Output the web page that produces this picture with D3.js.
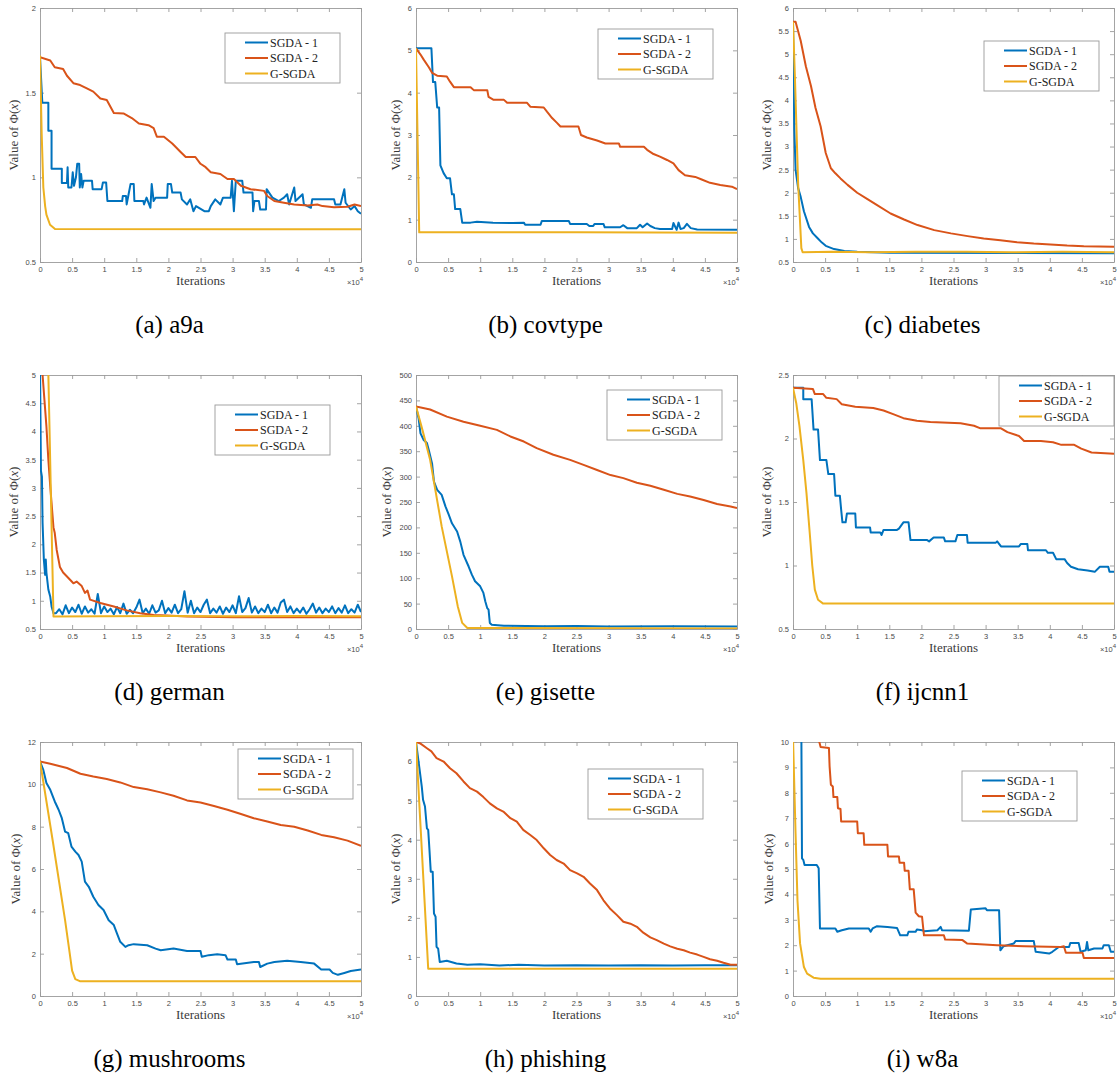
<!DOCTYPE html>
<html><head><meta charset="utf-8">
<script src="https://cdn.jsdelivr.net/npm/d3@7"></script>
<style>body{margin:0;background:#fff}svg{display:block}</style>
</head><body>
<svg id="chart" width="1120" height="1078"></svg>
<script>
// ---------- DATA (x in units of 10^4 iterations) ----------
const seriesNames = ["SGDA - 1", "SGDA - 2", "G-SGDA"];
const seriesColors = ["#0072BD", "#D95319", "#EDB120"];
const captions = ["(a) a9a", "(b) covtype", "(c) diabetes", "(d) german", "(e) gisette", "(f) ijcnn1", "(g) mushrooms", "(h) phishing", "(i) w8a"];
const xTicks = [0, 0.5, 1, 1.5, 2, 2.5, 3, 3.5, 4, 4.5, 5];

const a9a_yTicks = [0.5, 1, 1.5, 2];
const covtype_yTicks = [0, 1, 2, 3, 4, 5, 6];
const diabetes_yTicks = [0.5, 1, 1.5, 2, 2.5, 3, 3.5, 4, 4.5, 5, 5.5, 6];
const german_yTicks = [0.5, 1, 1.5, 2, 2.5, 3, 3.5, 4, 4.5, 5];
const gisette_yTicks = [0, 50, 100, 150, 200, 250, 300, 350, 400, 450, 500];
const ijcnn1_yTicks = [0.5, 1, 1.5, 2, 2.5];
const mushrooms_yTicks = [0, 2, 4, 6, 8, 10, 12];
const phishing_yTicks = [0, 1, 2, 3, 4, 5, 6];
const w8a_yTicks = [0, 1, 2, 3, 4, 5, 6, 7, 8, 9, 10];

const a9a_sgda1 = [[0,1.71],[0.036,1.44],[0.13,1.44],[0.13,1.275],[0.18,1.275],[0.18,1.05],[0.34,1.05],[0.34,0.966],[0.42,0.966],[0.43,1.06],[0.44,0.94],[0.49,0.94],[0.51,1.03],[0.53,0.95],[0.56,1.0],[0.58,1.08],[0.61,1.08],[0.62,0.94],[0.64,1.02],[0.66,0.94],[0.68,0.98],[0.81,0.98],[0.82,0.93],[0.96,0.93],[0.98,0.97],[1.03,0.97],[1.05,0.86],[1.28,0.86],[1.29,0.89],[1.34,0.89],[1.35,0.84],[1.38,0.9],[1.41,0.96],[1.46,0.96],[1.47,0.86],[1.61,0.86],[1.62,0.84],[1.66,0.88],[1.72,0.82],[1.74,0.96],[1.77,0.86],[1.80,0.88],[1.98,0.88],[1.99,0.96],[2.04,0.96],[2.06,0.91],[2.19,0.91],[2.21,0.87],[2.29,0.84],[2.34,0.87],[2.39,0.80],[2.43,0.83],[2.56,0.80],[2.63,0.80],[2.66,0.83],[2.73,0.87],[2.81,0.84],[2.85,0.88],[2.97,0.88],[2.99,0.98],[3.02,0.80],[3.05,0.98],[3.15,0.98],[3.17,0.91],[3.31,0.91],[3.32,0.80],[3.34,0.86],[3.41,0.86],[3.43,0.81],[3.52,0.81],[3.53,0.93],[3.62,0.88],[3.72,0.86],[3.80,0.88],[3.85,0.90],[3.88,0.84],[3.96,0.94],[3.98,0.86],[4.09,0.90],[4.11,0.84],[4.22,0.82],[4.24,0.87],[4.58,0.87],[4.60,0.84],[4.68,0.84],[4.74,0.93],[4.76,0.85],[4.84,0.81],[4.90,0.83],[4.95,0.80],[5,0.785]];
const a9a_sgda2 = [[0,1.71],[0.16,1.69],[0.23,1.65],[0.36,1.64],[0.42,1.60],[0.52,1.556],[0.625,1.545],[0.73,1.525],[0.83,1.506],[0.94,1.466],[1.04,1.457],[1.15,1.38],[1.30,1.377],[1.43,1.35],[1.54,1.318],[1.69,1.308],[1.77,1.29],[1.82,1.24],[1.93,1.24],[2.06,1.20],[2.19,1.15],[2.27,1.12],[2.42,1.12],[2.50,1.08],[2.58,1.06],[2.66,1.03],[2.81,1.02],[2.92,0.99],[3.02,0.99],[3.13,0.95],[3.28,0.93],[3.49,0.92],[3.54,0.89],[3.65,0.86],[3.80,0.85],[3.96,0.84],[4.17,0.834],[4.32,0.84],[4.40,0.83],[4.58,0.824],[4.79,0.826],[4.90,0.84],[5,0.83]];
const a9a_gsgda = [[0,1.72],[0.026,1.26],[0.052,0.94],[0.08,0.83],[0.10,0.78],[0.156,0.72],[0.234,0.695],[5,0.693]];

const covtype_sgda1 = [[0,5.05],[0.24,5.05],[0.265,4.25],[0.30,4.25],[0.33,3.65],[0.36,3.65],[0.38,2.28],[0.43,2.10],[0.48,1.98],[0.53,1.98],[0.56,1.60],[0.59,1.60],[0.61,1.25],[0.69,1.25],[0.72,0.93],[0.85,0.93],[0.95,0.95],[1.2,0.93],[1.5,0.92],[1.68,0.93],[1.70,0.88],[1.94,0.88],[1.96,0.97],[2.38,0.97],[2.40,0.90],[2.66,0.90],[2.70,0.85],[2.76,0.85],[2.78,0.90],[2.92,0.90],[2.94,0.82],[3.18,0.82],[3.23,0.87],[3.29,0.80],[3.44,0.80],[3.49,0.88],[3.53,0.82],[3.60,0.91],[3.65,0.85],[3.72,0.80],[3.80,0.78],[3.99,0.78],[4.01,0.92],[4.06,0.76],[4.09,0.93],[4.12,0.78],[4.17,0.80],[4.22,0.90],[4.28,0.80],[4.38,0.77],[5,0.76]];
const covtype_sgda2 = [[0,5.05],[0.07,4.9],[0.12,4.78],[0.2,4.6],[0.25,4.47],[0.33,4.4],[0.48,4.38],[0.53,4.26],[0.59,4.13],[0.85,4.13],[0.9,4.06],[1.11,4.06],[1.13,3.9],[1.21,3.83],[1.37,3.83],[1.42,3.76],[1.73,3.76],[1.78,3.67],[1.99,3.65],[2.04,3.55],[2.12,3.4],[2.2,3.28],[2.25,3.2],[2.53,3.2],[2.57,3.0],[2.66,2.94],[2.82,2.87],[2.95,2.8],[3.16,2.8],[3.18,2.72],[3.55,2.72],[3.6,2.65],[3.7,2.55],[3.8,2.49],[3.91,2.41],[4.01,2.33],[4.09,2.17],[4.19,2.05],[4.35,2.01],[4.45,1.95],[4.58,1.87],[4.74,1.82],[4.92,1.78],[5,1.72]];
const covtype_gsgda = [[0,5.05],[0.05,0.70],[2.5,0.70],[5,0.69]];

const diabetes_sgda1 = [[0,5.7],[0.02,3.4],[0.04,2.5],[0.08,2.1],[0.12,1.91],[0.17,1.6],[0.25,1.26],[0.31,1.12],[0.38,1.02],[0.45,0.92],[0.51,0.85],[0.64,0.78],[0.8,0.74],[1.0,0.72],[1.5,0.70],[5,0.69]];
const diabetes_sgda2 = [[0,5.7],[0.04,5.7],[0.12,5.29],[0.2,4.74],[0.28,4.31],[0.35,3.84],[0.43,3.44],[0.51,2.86],[0.59,2.53],[0.66,2.42],[0.74,2.31],[0.85,2.17],[1.0,2.0],[1.16,1.86],[1.31,1.73],[1.52,1.55],[1.73,1.42],[1.94,1.3],[2.2,1.19],[2.46,1.12],[2.72,1.06],[2.97,1.01],[3.23,0.97],[3.49,0.93],[3.75,0.9],[4.01,0.88],[4.27,0.855],[4.53,0.84],[5,0.83]];
const diabetes_gsgda = [[0,5.7],[0.03,4.5],[0.08,2.2],[0.13,0.8],[0.15,0.71],[0.6,0.72],[1.2,0.71],[1.9,0.72],[2.7,0.72],[3.4,0.71],[4.2,0.72],[5,0.71]];

const german_sgda1 = [[0,5.2],[0.015,3.3],[0.03,3.2],[0.04,2.38],[0.06,1.73],[0.08,1.46],[0.09,1.73],[0.10,1.5],[0.13,1.2],[0.16,1.07],[0.18,0.9],[0.21,0.78],[0.25,0.78],[0.30,0.85],[0.35,0.76],[0.40,0.92],[0.45,0.78],[0.50,0.88],[0.55,0.80],[0.60,0.93],[0.65,0.77],[0.70,0.90],[0.75,0.79],[0.80,0.85],[0.85,0.77],[0.90,1.12],[0.95,0.78],[1.00,0.90],[1.05,0.80],[1.10,0.86],[1.15,0.76],[1.20,0.89],[1.25,0.78],[1.30,0.95],[1.35,0.77],[1.40,0.84],[1.45,0.78],[1.50,0.88],[1.55,1.02],[1.60,0.78],[1.65,0.86],[1.70,0.77],[1.75,0.92],[1.80,0.79],[1.85,0.83],[1.90,1.0],[1.95,0.78],[2.00,0.87],[2.05,0.79],[2.10,0.93],[2.15,0.78],[2.20,0.85],[2.25,1.17],[2.30,0.79],[2.35,1.0],[2.40,0.78],[2.45,0.88],[2.50,0.80],[2.55,0.93],[2.60,1.02],[2.65,0.78],[2.70,0.86],[2.75,0.79],[2.80,0.90],[2.85,0.77],[2.90,0.88],[2.95,0.80],[3.00,0.92],[3.05,0.78],[3.10,1.08],[3.15,0.80],[3.20,0.87],[3.25,1.05],[3.30,0.79],[3.35,0.90],[3.40,0.78],[3.45,0.86],[3.50,0.80],[3.55,0.93],[3.60,0.78],[3.65,0.88],[3.70,0.79],[3.75,0.97],[3.80,1.02],[3.85,0.80],[3.90,0.90],[3.95,0.78],[4.00,0.86],[4.05,0.79],[4.10,0.88],[4.15,0.77],[4.20,0.85],[4.25,0.95],[4.30,0.79],[4.35,0.88],[4.40,0.78],[4.45,0.86],[4.50,0.80],[4.55,0.90],[4.60,0.78],[4.65,0.87],[4.70,0.79],[4.75,0.92],[4.80,0.78],[4.85,0.85],[4.90,0.79],[4.95,0.93],[5.00,0.80]];
const german_sgda2 = [[0,7.5],[0.04,5.0],[0.10,4.09],[0.13,3.5],[0.16,3.02],[0.21,2.3],[0.23,2.2],[0.26,1.9],[0.31,1.6],[0.36,1.5],[0.42,1.43],[0.52,1.31],[0.57,1.34],[0.65,1.26],[0.70,1.14],[0.74,1.18],[0.78,1.02],[0.94,0.96],[1.15,0.90],[1.35,0.83],[1.56,0.78],[1.77,0.75],[1.98,0.74],[2.29,0.72],[3.02,0.71],[5,0.71]];
const german_gsgda = [[0,12],[0.21,0.72],[1,0.725],[2,0.73],[3,0.725],[4,0.73],[5,0.725]];

const gisette_sgda1 = [[0,438],[0.04,415],[0.07,385],[0.12,372],[0.17,366],[0.2,352],[0.25,326],[0.28,290],[0.33,274],[0.4,264],[0.46,241],[0.51,225],[0.56,208],[0.64,192],[0.69,172],[0.74,146],[0.82,123],[0.87,107],[0.92,94],[1.0,84],[1.05,71],[1.08,54],[1.11,41],[1.13,38],[1.15,12],[1.18,8.5],[1.37,6.5],[2,5.5],[2.5,6],[3,5],[4,5.5],[5,5]];
const gisette_sgda2 = [[0,438],[0.22,432],[0.48,418],[0.74,408],[1.0,400],[1.26,392],[1.47,379],[1.68,369],[1.88,356],[2.14,343],[2.4,333],[2.61,323],[2.82,313],[3.03,303],[3.23,297],[3.44,288],[3.65,282],[3.86,274],[4.07,266],[4.27,261],[4.48,254],[4.69,246],[4.9,241],[5,238]];
const gisette_gsgda = [[0,438],[0.1,392],[0.22,333],[0.4,202],[0.56,104],[0.65,45],[0.72,12],[0.8,2],[5,1]];

const ijcnn1_sgda1 = [[0,2.4],[0.16,2.4],[0.16,2.31],[0.29,2.31],[0.30,2.23],[0.32,2.07],[0.39,2.07],[0.42,1.83],[0.52,1.83],[0.55,1.72],[0.64,1.72],[0.66,1.55],[0.73,1.55],[0.75,1.44],[0.77,1.34],[0.82,1.34],[0.84,1.41],[0.97,1.41],[0.98,1.30],[1.2,1.30],[1.21,1.26],[1.36,1.26],[1.38,1.24],[1.41,1.28],[1.62,1.28],[1.65,1.29],[1.72,1.34],[1.8,1.34],[1.83,1.20],[2.09,1.20],[2.12,1.19],[2.19,1.22],[2.35,1.22],[2.37,1.19],[2.53,1.19],[2.56,1.24],[2.71,1.24],[2.72,1.18],[3.16,1.18],[3.18,1.19],[3.24,1.15],[3.52,1.15],[3.55,1.17],[3.65,1.17],[3.66,1.12],[3.94,1.12],[3.97,1.10],[4.05,1.10],[4.1,1.05],[4.23,1.05],[4.27,1.02],[4.33,0.99],[4.44,0.97],[4.59,0.96],[4.7,0.95],[4.78,0.99],[4.91,0.99],[4.93,0.95],[5,0.95]];
const ijcnn1_sgda2 = [[0,2.4],[0.31,2.39],[0.34,2.35],[0.47,2.35],[0.52,2.32],[0.68,2.31],[0.76,2.27],[0.97,2.25],[1.25,2.24],[1.41,2.22],[1.57,2.19],[1.72,2.16],[1.93,2.14],[2.14,2.13],[2.61,2.12],[2.82,2.1],[2.92,2.08],[3.24,2.08],[3.34,2.05],[3.52,2.02],[3.6,1.98],[3.86,1.98],[4.05,1.97],[4.18,1.95],[4.38,1.95],[4.49,1.92],[4.65,1.89],[5,1.88]];
const ijcnn1_gsgda = [[0,2.4],[0.05,2.28],[0.1,2.1],[0.16,1.83],[0.21,1.57],[0.26,1.26],[0.3,1.0],[0.34,0.81],[0.39,0.73],[0.47,0.70],[5,0.70]];

const mushrooms_sgda1 = [[0,11.08],[0.05,10.7],[0.1,10.06],[0.16,9.74],[0.23,9.19],[0.29,8.8],[0.34,8.4],[0.39,7.77],[0.44,7.69],[0.49,7.06],[0.55,6.82],[0.6,6.66],[0.65,6.35],[0.7,5.4],[0.76,5.16],[0.83,4.69],[0.91,4.3],[0.99,4.06],[1.07,3.58],[1.15,3.35],[1.2,2.95],[1.25,2.56],[1.33,2.32],[1.38,2.4],[1.46,2.45],[1.67,2.4],[1.8,2.24],[1.88,2.16],[2.08,2.24],[2.29,2.13],[2.5,2.13],[2.52,1.85],[2.63,1.93],[2.76,1.97],[2.89,1.93],[2.92,1.72],[3.05,1.72],[3.07,1.5],[3.33,1.61],[3.41,1.61],[3.43,1.37],[3.54,1.53],[3.65,1.61],[3.85,1.66],[4.06,1.61],[4.27,1.53],[4.38,1.25],[4.51,1.25],[4.56,1.09],[4.64,1.0],[4.74,1.09],[4.84,1.18],[5,1.25]];
const mushrooms_sgda2 = [[0,11.08],[0.16,10.97],[0.42,10.77],[0.63,10.5],[0.83,10.37],[1.04,10.25],[1.25,10.09],[1.46,9.87],[1.67,9.77],[1.88,9.62],[2.08,9.46],[2.29,9.24],[2.5,9.14],[2.71,8.98],[2.92,8.8],[3.13,8.6],[3.33,8.4],[3.54,8.24],[3.75,8.08],[3.96,8.0],[4.17,7.82],[4.38,7.61],[4.58,7.5],[4.79,7.34],[5,7.09]];
const mushrooms_gsgda = [[0,11.1],[0.2,7.3],[0.39,3.6],[0.45,2.3],[0.5,1.2],[0.55,0.8],[0.62,0.7],[5,0.7]];

const phishing_sgda1 = [[0,6.5],[0.05,5.87],[0.09,5.36],[0.11,5.02],[0.14,4.85],[0.17,4.29],[0.19,4.25],[0.21,3.73],[0.23,3.18],[0.26,3.18],[0.28,2.11],[0.305,2.03],[0.32,1.26],[0.345,1.21],[0.37,0.87],[0.48,0.9],[0.63,0.83],[0.8,0.80],[1.0,0.81],[1.3,0.78],[1.6,0.80],[2.0,0.78],[2.5,0.79],[3.0,0.78],[3.5,0.79],[4.0,0.78],[4.5,0.79],[5,0.79]];
const phishing_sgda2 = [[0,6.5],[0.06,6.47],[0.17,6.34],[0.24,6.26],[0.32,6.09],[0.43,6.0],[0.53,5.83],[0.63,5.7],[0.74,5.49],[0.84,5.32],[0.95,5.23],[1.05,5.09],[1.15,4.93],[1.26,4.8],[1.36,4.72],[1.47,4.55],[1.57,4.46],[1.67,4.25],[1.78,4.12],[1.88,3.99],[1.99,3.78],[2.09,3.61],[2.19,3.48],[2.3,3.39],[2.4,3.22],[2.51,3.14],[2.61,3.05],[2.71,2.88],[2.82,2.71],[2.92,2.45],[3.02,2.24],[3.13,2.07],[3.23,1.9],[3.34,1.85],[3.44,1.77],[3.54,1.62],[3.65,1.5],[3.75,1.43],[3.86,1.34],[3.96,1.27],[4.07,1.21],[4.17,1.17],[4.27,1.11],[4.38,1.06],[4.48,1.0],[4.58,0.94],[4.69,0.9],[4.79,0.85],[4.9,0.8],[5,0.8]];
const phishing_gsgda = [[0,6.5],[0.19,0.70],[5,0.70]];

const w8a_sgda1 = [[0,14],[0.13,10.5],[0.14,5.42],[0.16,5.36],[0.18,5.16],[0.37,5.16],[0.4,5.03],[0.42,2.66],[0.66,2.66],[0.69,2.53],[0.76,2.59],[0.87,2.66],[1.18,2.66],[1.21,2.53],[1.24,2.66],[1.31,2.75],[1.47,2.72],[1.62,2.68],[1.67,2.39],[1.78,2.39],[1.8,2.53],[1.91,2.53],[1.93,2.62],[2.01,2.59],[2.04,2.55],[2.25,2.59],[2.3,2.72],[2.32,2.59],[2.74,2.57],[2.77,3.41],[3.0,3.45],[3.02,3.38],[3.21,3.38],[3.23,1.8],[3.28,1.96],[3.44,2.07],[3.47,2.17],[3.75,2.17],[3.78,1.74],[3.99,1.67],[4.04,1.74],[4.14,1.93],[4.3,1.93],[4.32,2.09],[4.45,2.09],[4.48,1.74],[4.56,1.8],[4.58,2.13],[4.6,1.8],[4.69,1.87],[4.82,1.87],[4.84,2.0],[4.92,2.0],[4.95,1.74],[5,1.74]];
const w8a_sgda2 = [[0,14],[0.4,10.1],[0.43,9.8],[0.56,9.76],[0.57,9.04],[0.59,8.32],[0.62,8.25],[0.63,7.83],[0.69,7.83],[0.7,7.39],[0.74,7.36],[0.75,6.87],[1.0,6.87],[1.01,6.41],[1.1,6.41],[1.11,5.95],[1.47,5.95],[1.48,5.49],[1.65,5.49],[1.66,5.25],[1.73,5.25],[1.74,4.93],[1.8,4.93],[1.82,4.2],[1.88,4.2],[1.91,3.28],[1.96,3.14],[2.01,3.12],[2.04,2.39],[2.35,2.39],[2.37,2.22],[2.64,2.2],[2.71,2.07],[3.18,2.0],[3.6,1.96],[4.17,1.93],[4.22,1.96],[4.25,1.7],[4.51,1.7],[4.53,1.5],[5,1.5]];
const w8a_gsgda = [[0,10.2],[0.04,6.4],[0.07,3.75],[0.11,2.07],[0.17,1.14],[0.22,0.88],[0.32,0.72],[0.43,0.68],[5,0.68]];

// ---------- PANELS (built from the arrays above) ----------
const panels = [
  {yDomain: [0.5, 2],  yTicks: a9a_yTicks,       series: [a9a_sgda1, a9a_sgda2, a9a_gsgda]},
  {yDomain: [0, 6],    yTicks: covtype_yTicks,   series: [covtype_sgda1, covtype_sgda2, covtype_gsgda]},
  {yDomain: [0.5, 6],  yTicks: diabetes_yTicks,  series: [diabetes_sgda1, diabetes_sgda2, diabetes_gsgda]},
  {yDomain: [0.5, 5],  yTicks: german_yTicks,    series: [german_sgda1, german_sgda2, german_gsgda]},
  {yDomain: [0, 500],  yTicks: gisette_yTicks,   series: [gisette_sgda1, gisette_sgda2, gisette_gsgda]},
  {yDomain: [0.5, 2.5],yTicks: ijcnn1_yTicks,    series: [ijcnn1_sgda1, ijcnn1_sgda2, ijcnn1_gsgda]},
  {yDomain: [0, 12],   yTicks: mushrooms_yTicks, series: [mushrooms_sgda1, mushrooms_sgda2, mushrooms_gsgda]},
  {yDomain: [0, 6.5],  yTicks: phishing_yTicks,  series: [phishing_sgda1, phishing_sgda2, phishing_gsgda]},
  {yDomain: [0, 10],   yTicks: w8a_yTicks,       series: [w8a_sgda1, w8a_sgda2, w8a_gsgda]}
];

// ---------- LAYOUT ----------
const colLeft = [40, 416, 793], rowTop = [8, 375, 742], W = 321, H = 254;
const legendOffset = [[185,25],[182,21],[191,33],[175,30],[191,15],[206,1],[198,7],[172,27],[169,29]];
const axisColor = "#9a9a9a", tickTextColor = "#4a4a4a";
const serif = "'Liberation Serif','Times New Roman',serif";
const sans = "'Liberation Sans',Arial,Helvetica,sans-serif";

const svg = d3.select("#chart");
const defs = svg.append("defs");

panels.forEach((p, i) => {
  const col = i % 3, row = Math.floor(i / 3);
  const L = colLeft[col], T = rowTop[row];
  const x = d3.scaleLinear().domain([0, 5]).range([L, L + W]);
  const y = d3.scaleLinear().domain(p.yDomain).range([T + H, T]);
  const g = svg.append("g");

  defs.append("clipPath").attr("id", "clip" + i)
    .append("rect").attr("x", L).attr("y", T).attr("width", W).attr("height", H);

  g.append("rect").attr("x", L).attr("y", T).attr("width", W).attr("height", H).attr("fill", "#fff");

  const fmt = d3.format("~g");
  const gB = g.append("g").attr("transform", `translate(0,${T + H})`)
    .call(d3.axisBottom(x).tickValues(xTicks).tickSize(-4).tickSizeOuter(0).tickPadding(5).tickFormat(fmt));
  const gT = g.append("g").attr("transform", `translate(0,${T})`)
    .call(d3.axisTop(x).tickValues(xTicks).tickSize(-4).tickSizeOuter(0).tickFormat(""));
  const gL = g.append("g").attr("transform", `translate(${L},0)`)
    .call(d3.axisLeft(y).tickValues(p.yTicks).tickSize(-4).tickSizeOuter(0).tickPadding(4).tickFormat(fmt));
  const gR = g.append("g").attr("transform", `translate(${L + W},0)`)
    .call(d3.axisRight(y).tickValues(p.yTicks).tickSize(-4).tickSizeOuter(0).tickFormat(""));

  [gB, gT, gL, gR].forEach(a => {
    a.selectAll("path.domain").attr("stroke", axisColor).attr("stroke-width", 0.9);
    a.selectAll(".tick line").attr("stroke", axisColor).attr("stroke-width", 0.9);
    a.selectAll("text").attr("fill", tickTextColor).attr("font-family", sans).attr("font-size", 7.5);
  });

  // series lines
  const line = d3.line().x(d => x(d[0])).y(d => y(d[1]));
  p.series.forEach((s, k) => {
    g.append("path").datum(s)
      .attr("d", line)
      .attr("fill", "none")
      .attr("stroke", seriesColors[k])
      .attr("stroke-width", 2)
      .attr("stroke-linejoin", "round")
      .attr("clip-path", `url(#clip${i})`);
  });

  // y label
  let maxW = 0;
  gL.selectAll(".tick text").each(function(){ maxW = Math.max(maxW, this.getComputedTextLength()); });
  const bx = L - 4 - maxW - 8;
  const yl = g.append("text")
    .attr("transform", `translate(${bx},${T + H / 2}) rotate(-90)`)
    .attr("text-anchor", "middle")
    .attr("font-family", serif).attr("font-size", 13).attr("fill", "#3a3a3a");
  yl.append("tspan").text("Value of Φ(");
  yl.append("tspan").attr("font-style", "italic").text("x");
  yl.append("tspan").text(")");

  // x label
  g.append("text").attr("x", L + W / 2).attr("y", T + H + 23)
    .attr("text-anchor", "middle").attr("font-family", serif).attr("font-size", 13).attr("fill", "#3a3a3a")
    .text("Iterations");
  const ex = g.append("text").attr("x", L + W + 2).attr("y", T + H + 23)
    .attr("text-anchor", "end").attr("font-family", sans).attr("font-size", 7.5).attr("fill", tickTextColor);
  ex.append("tspan").text("×10");
  ex.append("tspan").attr("dy", -4).attr("font-size", 6).text("4");

  // legend
  const bxL = L + legendOffset[i][0], byL = T + legendOffset[i][1];
  const lg = g.append("g");
  lg.append("rect").attr("x", bxL).attr("y", byL).attr("width", 115).attr("height", 50)
    .attr("fill", "#fff").attr("stroke", axisColor).attr("stroke-width", 0.9);
  seriesNames.forEach((nm, k) => {
    const yy = byL + 9.5 + 15.5 * k;
    lg.append("line").attr("x1", bxL + 20).attr("x2", bxL + 43).attr("y1", yy).attr("y2", yy)
      .attr("stroke", seriesColors[k]).attr("stroke-width", 2);
    lg.append("text").attr("x", bxL + 45).attr("y", yy + 4)
      .attr("font-family", serif).attr("font-size", 12).attr("fill", "#222").text(nm);
  });

  // caption
  svg.append("text").attr("x", L + W / 2 - 31).attr("y", T + H + 71)
    .attr("text-anchor", "middle").attr("font-family", serif).attr("font-size", 25).attr("fill", "#000")
    .text(captions[i]);
});
</script>
</body></html>
